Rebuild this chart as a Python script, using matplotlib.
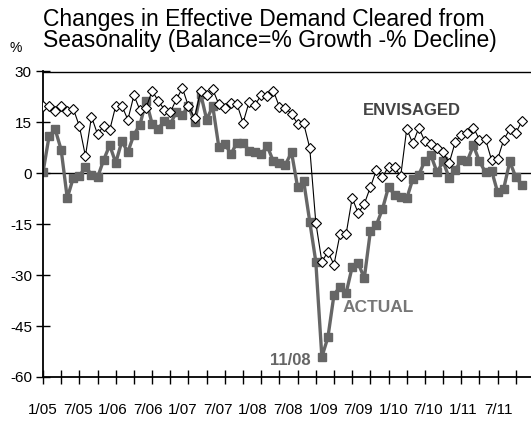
import numpy as np
import matplotlib
matplotlib.use('Agg')
import matplotlib.pyplot as plt

# monthly balances, 1/05 .. 8/11
envisaged = [19.9, 19.9, 18.4, 19.9, 18.4, 19.0, 13.9, 5.1, 16.7, 11.5, 14.0, 12.7,
             19.9, 19.9, 15.8, 23.0, 18.6, 19.3, 24.3, 21.4, 18.8, 18.0, 21.8, 25.1,
             19.7, 16.4, 24.3, 23.1, 24.7, 20.4, 19.3, 20.6, 20.4, 14.9, 21.0, 20.1,
             23.2, 22.8, 24.3, 19.6, 19.3, 17.5, 14.6, 14.7, 7.5, -14.5, -26.0, -23.1,
             -26.9, -17.9, -17.9, -7.3, -11.7, -9.0, -4.1, 1.0, -1.1, 2.0, 1.8, -0.9,
             13.1, 8.8, 13.4, 9.4, 8.5, 7.6, 6.4, 3.0, 9.2, 11.4, 11.9, 13.5,
             9.9, 10.0, 3.9, 4.2, 9.9, 13.0, 11.9, 15.4]
actual = [0.3, 10.9, 13.0, 6.9, -7.3, -1.3, -0.9, 2.0, -0.4, -1.2, 3.9, 8.3,
          3.1, 9.4, 6.3, 11.4, 14.3, 21.4, 14.6, 13.2, 15.3, 14.5, 18.1, 17.2,
          19.9, 15.1, 23.5, 15.8, 19.8, 7.8, 8.7, 5.7, 9.0, 9.0, 6.7, 6.3,
          5.7, 8.0, 3.5, 3.1, 2.6, 6.2, -4.1, -2.3, -14.2, -26.0, -54.1, -48.3,
          -35.8, -33.4, -35.3, -27.6, -26.5, -30.9, -17.1, -15.2, -10.5, -4.0, -6.3, -6.9,
          -7.4, -1.7, -0.4, 3.7, 5.3, 0.3, 3.5, -1.3, 0.9, 3.9, 3.7, 8.2,
          3.5, 0.3, 0.8, -5.6, -4.5, 3.5, -1.2, -3.4]
tick_labels = ['1/05', '7/05', '1/06', '7/06', '1/07', '7/07', '1/08',
               '7/08', '1/09', '7/09', '1/10', '7/10', '1/11', '7/11']
y_ticks = [30, 15, 0, -15, -30, -45, -60]

months = np.arange(len(actual))

plt.rcParams['font.family'] = ['Liberation Sans', 'DejaVu Sans']

fig = plt.figure(figsize=(5.31, 4.25), dpi=100)
ax = fig.add_axes([43 / 531, 1 - 377 / 425, 1 - 43 / 531, (377 - 71.5) / 425])

ax.axhline(0, color='black', lw=1.0, zorder=1)
ax.plot(months, actual, color='#666666', lw=2.4, marker='s', ms=6,
        mfc='#666666', mec='#666666', zorder=2)
ax.plot(months, envisaged, color='black', lw=0.8, marker='D', ms=5.2,
        mfc='white', mec='black', mew=0.8, zorder=3)

ax.set_xlim(0, 80.5)
ax.set_ylim(-60, 30)

ax.spines['right'].set_visible(False)
for s in ['left', 'bottom']:
    ax.spines[s].set_linewidth(1.3)
ax.spines['top'].set_linewidth(1.0)

ax.set_yticks(y_ticks)
ax.set_yticklabels([str(v) for v in y_ticks], fontsize=11)
ax.tick_params(axis='y', direction='inout', length=10, width=1.0, pad=3)

# tick marks every quarter, labels every half-year (placed slightly tighter)
ax.xaxis.remove_overlapping_locs = False
ax.set_xticks(np.arange(0, 81, 3))
ax.set_xticklabels([])
ax.tick_params(axis='x', which='major', direction='inout', length=10, width=1.0)
ax.set_xticks([i * 5.78 for i in range(len(tick_labels))], minor=True)
ax.set_xticklabels(tick_labels, minor=True, fontsize=11)
ax.tick_params(axis='x', which='minor', length=0, pad=19)

fig.text(43 / 531, 1 - 26 / 425, 'Changes in Effective Demand Cleared from',
         fontsize=16.5, va='baseline', ha='left')
fig.text(43 / 531, 1 - 47.5 / 425, 'Seasonality (Balance=% Growth -% Decline)',
         fontsize=16.5, va='baseline', ha='left')
fig.text(10 / 531, 1 - 52 / 425, '%', fontsize=10, va='baseline', ha='left')

ax.text(52.7, 18.5, 'ENVISAGED', fontsize=12, fontweight='bold',
        color='#444444', va='center', ha='left')
ax.text(49.4, -39.4, 'ACTUAL', fontsize=12.5, fontweight='bold',
        color='#777777', va='center', ha='left')
ax.text(44.2, -55.0, '11/08', fontsize=12, fontweight='bold',
        color='#666666', va='center', ha='right')

fig.savefig('out.png', dpi=100)
